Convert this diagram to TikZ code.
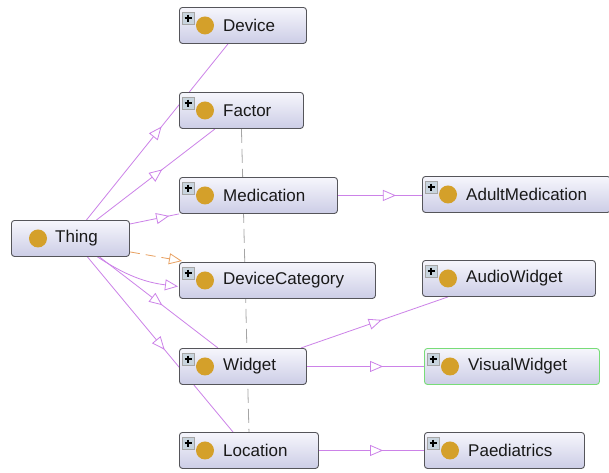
\documentclass[tikz,border=0pt]{standalone}
\usepackage{fontspec}
\setmainfont{Liberation Sans}
\usetikzlibrary{arrows.meta,decorations.markings,backgrounds}
\definecolor{isacol}{RGB}{204,130,232}
\definecolor{dashcol}{RGB}{232,160,96}
\definecolor{greycol}{RGB}{165,165,165}
\definecolor{goldcol}{RGB}{212,160,42}
\definecolor{bordercol}{RGB}{85,85,90}
\definecolor{topcol}{RGB}{246,246,252}
\definecolor{botcol}{RGB}{204,205,230}
\definecolor{plusfill}{RGB}{200,212,222}
\definecolor{greenborder}{RGB}{120,220,120}
\tikzset{
  clsbox/.style={draw=bordercol, line width=0.9pt, rounded corners=3pt,
    top color=topcol, bottom color=botcol, minimum height=36pt, inner sep=0pt},
  lbl/.style={font=\fontsize{17}{20}\selectfont, inner sep=0pt, text=black!90},
  plusbox/.style={draw=gray!70, fill=plusfill, line width=0.5pt},
  isa/.style={draw=isacol, line width=0.8pt},
  tri/.style={postaction={decorate,decoration={markings,
    mark=at position #1 with {\arrow{Triangle[length=13pt,width=11pt,fill=white]}}}}},
}
\newcommand{\owlclass}[6]{%
  \node[clsbox, minimum width=#4pt, anchor=north west, #6] (#1) at (#2,#3) {};
  \draw[plusbox] ([xshift=3pt,yshift=-5pt]#1.north west) rectangle ++(12pt,-12pt);
  \draw[line width=1.1pt] ([xshift=5.5pt,yshift=-11pt]#1.north west) -- ++(7pt,0pt);
  \draw[line width=1.1pt] ([xshift=9pt,yshift=-7.5pt]#1.north west) -- ++(0pt,-7pt);
  \fill[goldcol] ([xshift=26pt]#1.west) circle (9pt);
  \node[lbl, anchor=west] (#1-t) at ([xshift=44pt]#1.west) {#5};
}
\begin{document}
\begin{tikzpicture}[x=1pt,y=-1pt]
\useasboundingbox (0,0) rectangle (609,472);
% Thing (no plus box)
\node[clsbox, minimum width=118pt, anchor=north west] (Thing) at (11,220) {};
\fill[goldcol] ([xshift=27pt]Thing.west) circle (9pt);
\node[lbl, anchor=west] (Thing-t) at ([xshift=44pt]Thing.west) {Thing};
\owlclass{Device}{179}{7}{127}{Device}{}
\owlclass{Factor}{179}{92}{124}{Factor}{}
\owlclass{Medication}{179}{177}{158}{Medication}{}
\owlclass{DeviceCategory}{179}{262}{196}{DeviceCategory}{}
\owlclass{Widget}{179}{348}{127}{Widget}{}
\owlclass{Location}{179}{432}{139}{Location}{}
\owlclass{AdultMedication}{422}{176}{188}{AdultMedication}{}
\owlclass{AudioWidget}{422}{260}{173}{AudioWidget}{}
\owlclass{VisualWidget}{424}{348}{175}{VisualWidget}{draw=greenborder}
\owlclass{Paediatrics}{424}{432}{160}{Paediatrics}{}
\begin{scope}[on background layer]
\fill[white] (0,0) rectangle (609,472);
\draw[greycol, line width=0.8pt, dash pattern=on 14pt off 6pt] (Factor.south) -- (Location.north);
\draw[isa, tri=0.53] ([xshift=16pt]Thing.north) -- ([xshift=49pt]Device.south west);
\draw[isa, tri=0.555] ([xshift=26pt]Thing.north) -- ([xshift=36pt]Factor.south west);
\draw[isa, tri=0.8] ([yshift=-4pt]Thing.north east) -- (Medication.south west);
\draw[draw=dashcol, line width=0.8pt, dash pattern=on 10pt off 6pt,
  -{Triangle[length=13pt,width=11pt,fill=white]}]
  ([yshift=5pt]Thing.south east) -- ([xshift=3pt,yshift=1pt]DeviceCategory.north west);
\draw[isa, -{Triangle[length=13pt,width=11pt,fill=white]}]
  ([xshift=27pt]Thing.south) to[bend right=13] ([xshift=-1pt,yshift=-6pt]DeviceCategory.west);
\draw[isa, tri=0.53] ([xshift=29pt]Thing.south) -- ([xshift=39pt]Widget.north west);
\draw[isa, tri=0.53] ([xshift=17pt]Thing.south) -- ([xshift=54pt]Location.north west);
\draw[isa, tri=0.69] (Medication.east) -- (Medication.east -| AdultMedication.west);
\draw[isa, tri=0.55] ([xshift=-6pt]Widget.north east) -- ([xshift=26pt]AudioWidget.south west);
\draw[isa, tri=0.65] (Widget.east) -- (VisualWidget.west);
\draw[isa, tri=0.61] (Location.east) -- (Paediatrics.west);
\end{scope}
\end{tikzpicture}
\end{document}
